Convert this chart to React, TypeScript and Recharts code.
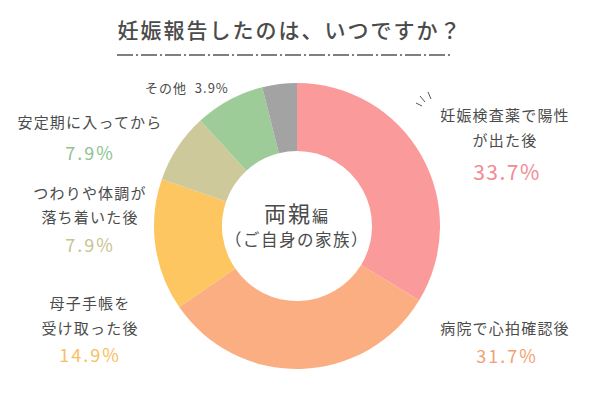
import { PieChart, Pie, Cell } from "recharts";

const categories = [
  "妊娠検査薬で陽性が出た後",
  "病院で心拍確認後",
  "母子手帳を受け取った後",
  "つわりや体調が落ち着いた後",
  "安定期に入ってから",
  "その他",
];
const values = [33.7, 31.7, 14.9, 7.9, 7.9, 3.9];
const sliceColors = ["#FA9A9B", "#FBAE82", "#FDC660", "#CEC99B", "#9ECC99", "#A4A3A4"];
const pctColors = ["#F08D94", "#F2A173", "#F6C05E", "#C7C38F", "#8DC48F", "#555555"];

const data = categories.map((name, i) => ({ name, value: values[i] }));

const FONT = '"Noto Sans CJK JP", "Noto Sans", sans-serif';
const TEXT = "#4b4b4b";

function T({ x, y, size, color = TEXT, children, align = "center", spacing = 1.2, weight = 400 }: any) {
  return (
    <div
      style={{
        position: "absolute",
        left: align === "center" ? x - 300 : x,
        top: y - size * 0.7,
        width: align === "center" ? 600 : undefined,
        textAlign: align,
        fontSize: size,
        lineHeight: `${size * 1.4}px`,
        color,
        letterSpacing: spacing,
        fontWeight: weight,
        whiteSpace: "nowrap",
      }}
    >
      {children}
    </div>
  );
}

export default function App() {
  return (
    <div
      style={{
        position: "absolute",
        left: 0,
        top: 0,
        width: 600,
        height: 400,
        background: "#fff",
        fontFamily: FONT,
        overflow: "hidden",
      }}
    >
      <PieChart
        width={600}
        height={400}
        margin={{ top: 0, right: 0, bottom: 0, left: 0 }}
        style={{ position: "absolute", left: 0, top: 0 }}
      >
        <Pie
          data={data}
          dataKey="value"
          nameKey="name"
          cx={297}
          cy={226}
          outerRadius={143}
          innerRadius={75}
          startAngle={90}
          endAngle={-270}
          stroke="none"
          isAnimationActive={false}
        >
          {data.map((d, i) => (
            <Cell key={d.name} fill={sliceColors[i]} />
          ))}
        </Pie>
      </PieChart>

      <svg width={600} height={400} style={{ position: "absolute", left: 0, top: 0, pointerEvents: "none" }}>
        <line x1={117} y1={55} x2={453} y2={55} stroke="#555" strokeWidth={1.6} strokeDasharray="16 3 2 3" />
        <line x1={416} y1={103} x2={422} y2={106} stroke="#555" strokeWidth={1} />
        <line x1={420} y1={96} x2={425} y2={102} stroke="#555" strokeWidth={1} />
        <line x1={428} y1={92} x2={431} y2={99} stroke="#555" strokeWidth={1} />
      </svg>

      <T x={290} y={30} size={21} spacing={2} weight={500}>妊娠報告したのは、いつですか？</T>

      <T x={145} y={88} size={13} align="left" spacing={1}>その他&nbsp;&nbsp;3.9%</T>

      <T x={90} y={121} size={15}>安定期に入ってから</T>
      <T x={90} y={153} size={18} color={pctColors[4]} spacing={2}>7.9%</T>

      <T x={90} y={192} size={15}>つわりや体調が</T>
      <T x={90} y={216} size={15}>落ち着いた後</T>
      <T x={90} y={245} size={18} color={pctColors[3]} spacing={2}>7.9%</T>

      <T x={90} y={302} size={15}>母子手帳を</T>
      <T x={90} y={327} size={15}>受け取った後</T>
      <T x={90} y={355} size={18} color={pctColors[2]} spacing={2}>14.9%</T>

      <T x={505} y={114} size={15}>妊娠検査薬で陽性</T>
      <T x={505} y={139} size={15}>が出た後</T>
      <T x={507} y={172} size={21} color={pctColors[0]} spacing={1.5}>33.7%</T>

      <T x={505} y={327} size={15}>病院で心拍確認後</T>
      <T x={507} y={356} size={18} color={pctColors[1]} spacing={2}>31.7%</T>

      <T x={297} y={212} size={22} spacing={2}>
        両親<span style={{ fontSize: 16 }}>編</span>
      </T>
      <T x={297} y={240} size={16.5} spacing={1.5}>（ご自身の家族）</T>
    </div>
  );
}
